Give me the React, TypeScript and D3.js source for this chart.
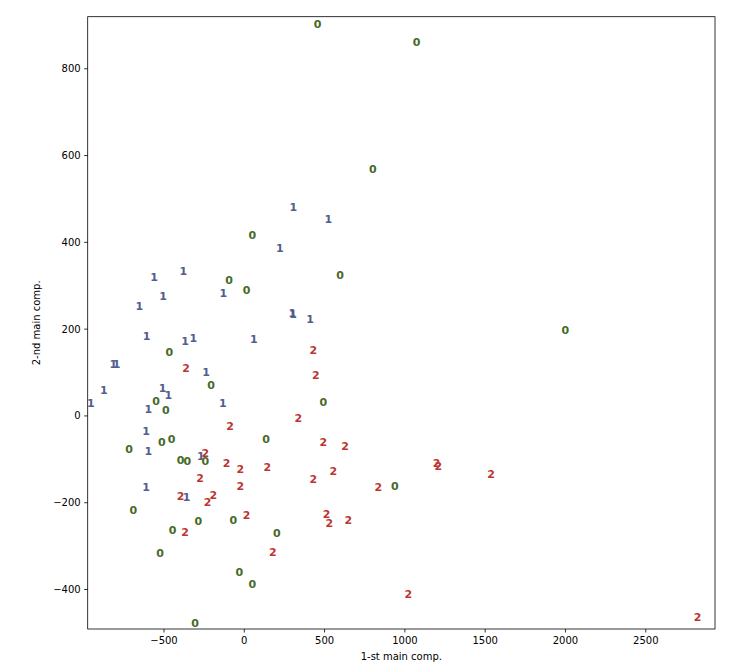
import React from "react";
import * as d3 from "d3";

// Class 0 points (1st comp, 2nd comp)
const zeroX = [457, 1073, 800, 50, -95, 15, 596, 1999, -467, -207, -550, -488, 492, -718, -452, -514, 135, -396, -355, -243, 938, -691, -446, -286, -68, 202, -525, -31, 50, -307];
const zeroY = [902, 861, 568, 415, 312, 290, 323, 198, 146, 69, 33, 12, 32, -78, -55, -62, -54, -103, -105, -105, -163, -219, -265, -243, -240, -270, -316, -361, -389, -478];

// Class 1 points
const oneX = [305, 523, 222, -562, -380, -131, -506, -654, 299, 304, 409, -608, -369, -318, 60, -816, -795, -238, -874, -508, -473, -956, -598, -134, -612, -598, -271, -612, -359];
const oneY = [481, 452, 385, 320, 332, 283, 276, 253, 235, 234, 223, 183, 171, 179, 177, 118, 118, 100, 58, 64, 47, 29, 14, 29, -36, -82, -94, -165, -188];

// Class 2 points
const twoX = [430, -363, 445, 336, -89, 492, 627, -243, -110, -25, 143, 554, -276, 430, -25, 834, -396, -193, -228, 15, 513, 529, 648, -369, 177, 1021, 1198, 1208, 1536, 2823];
const twoY = [150, 110, 94, -7, -25, -62, -71, -86, -109, -124, -119, -129, -145, -147, -163, -165, -186, -184, -199, -230, -226, -247, -240, -268, -315, -412, -109, -117, -134, -465];

const xTicks = [-500, 0, 500, 1000, 1500, 2000, 2500];
const yTicks = [-400, -200, 0, 200, 400, 600, 800];
const classLabels = ["0", "1", "2"];
const classColors = ["#476A2A", "#535D8E", "#BD3430"];

const W = 746;
const H = 671;
const left = 87.7;
const right = 715;
const top = 16.7;
const bottom = 629;

export default function App() {
  const x = d3.scaleLinear().domain([-975, 2931]).range([left, right]);
  const y = d3.scaleLinear().domain([-491, 920]).range([bottom, top]);

  const groups = [
    { xs: zeroX, ys: zeroY },
    { xs: oneX, ys: oneY },
    { xs: twoX, ys: twoY },
  ];
  const fmt = (v: number) => (v < 0 ? "\u2212" + Math.abs(v) : String(v));
  const font = "'DejaVu Sans', sans-serif";

  return (
    <div style={{ position: "absolute", left: 0, top: 0 }}>
      <svg width={W} height={H} style={{ display: "block", background: "#fff" }}>
        <g fontFamily={font}>
          {groups.map((g, gi) =>
            g.xs.map((xv, i) => (
              <text
                key={`${gi}-${i}`}
                x={x(xv)}
                y={y(g.ys[i])}
                textAnchor="middle"
                dominantBaseline="central"
                fontSize={11}
                fontWeight="bold"
                fill={classColors[gi]}
              >
                {classLabels[gi]}
              </text>
            ))
          )}
          <rect x={left} y={top} width={right - left} height={bottom - top} fill="none" stroke="#000" strokeWidth={0.8} />
          {xTicks.map((t) => (
            <g key={`xt${t}`}>
              <line x1={x(t)} x2={x(t)} y1={bottom} y2={bottom + 3.5} stroke="#000" strokeWidth={0.8} />
              <text x={x(t)} y={bottom + 7} dy="0.76em" textAnchor="middle" fontSize={10} fill="#000">
                {fmt(t)}
              </text>
            </g>
          ))}
          {yTicks.map((t) => (
            <g key={`yt${t}`}>
              <line x1={left - 3.5} x2={left} y1={y(t)} y2={y(t)} stroke="#000" strokeWidth={0.8} />
              <text x={left - 7} y={y(t)} dy="0.35em" textAnchor="end" fontSize={10} fill="#000">
                {fmt(t)}
              </text>
            </g>
          ))}
          <text x={(left + right) / 2} y={660} textAnchor="middle" fontSize={10} fill="#000">
            1-st main comp.
          </text>
          <text
            transform={`translate(40,${(top + bottom) / 2}) rotate(-90)`}
            textAnchor="middle"
            fontSize={10}
            fill="#000"
          >
            2-nd main comp.
          </text>
        </g>
      </svg>
    </div>
  );
}
